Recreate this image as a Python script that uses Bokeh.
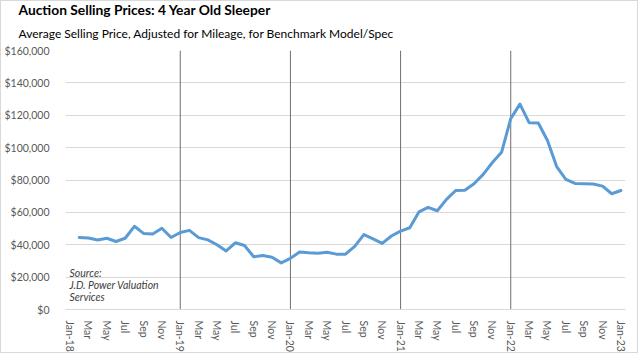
from bokeh.plotting import figure
from bokeh.models import (ColumnDataSource, Range1d, Title, Label, FixedTicker,
                          NumeralTickFormatter, SingleIntervalTicker)
from bokeh.embed import file_html
from bokeh.resources import INLINE

# ---- data ----
years = ["18", "19", "20", "21", "22", "23"]
month_names = ["Jan", "Feb", "Mar", "Apr", "May", "Jun",
               "Jul", "Aug", "Sep", "Oct", "Nov", "Dec"]
months = [f"{m}-{y}" for y in years[:-1] for m in month_names] + ["Jan-23"]

series_months = months[1:]  # Feb-18 .. Jan-23
prices = [
    44500, 44200, 42900, 44000, 42000, 44000, 51400, 47000, 46700, 50200, 44500,
    47600, 48900, 44400, 43000, 40000, 36200, 41200, 39500, 32600, 33400, 32300, 28800,
    31600, 35500, 35000, 34800, 35400, 34200, 34200, 39000, 46300, 43600, 40800, 45400,
    48400, 50500, 60300, 63100, 61000, 68000, 73500, 73700, 77700, 83500, 90800, 97100,
    117900, 126900, 115400, 115200, 104400, 88300, 80400, 77900, 77700, 77500, 76200, 71500,
    73500,
]
year_marks = ["Jan-19", "Jan-20", "Jan-21", "Jan-22"]
y_max = 160000
y_step = 20000

title_text = "Auction Selling Prices: 4 Year Old Sleeper"
subtitle_text = "Average Selling Price, Adjusted for Mileage, for Benchmark Model/Spec"
source_lines = ["Source:", "J.D. Power Valuation", "Services"]

# month positions on the axis and the labels shown (Jan-YY, then every other month)
pos = {m: i for i, m in enumerate(months)}
tick_positions = [i for i in range(len(months)) if i % 2 == 0]
tick_labels = {i: (months[i] if months[i].startswith("Jan") else months[i].split("-")[0])
               for i in tick_positions}

FONT = "Lato"
GREY = "#595959"

p = figure(width=638, height=353, output_backend="svg", toolbar_location=None,
           x_range=Range1d(-0.5, len(months) - 0.5),
           y_range=Range1d(0, y_max),
           min_border_left=64, min_border_right=14, min_border_top=0,
           min_border_bottom=44)
p.styles = {"border": "1px solid #D9D9D9"}

p.title.text = title_text
p.title.text_font = FONT
p.title.text_font_size = "13.8px"
p.title.text_font_style = "bold"
p.title.text_color = "#000000"
p.title.text_line_height = 1.0
p.title.offset = -47
p.title.standoff = -6
sub = Title(text=subtitle_text, text_font=FONT, text_font_size="12px",
            text_font_style="normal", text_color="#000000", text_line_height=1.0,
            offset=-47, standoff=19)
p.add_layout(sub, "above")

src = ColumnDataSource(dict(x=[pos[m] for m in series_months], y=prices))
vsrc = ColumnDataSource(dict(x=[pos[m] for m in year_marks], y0=[0] * len(year_marks),
                             y1=[y_max] * len(year_marks)))

p.segment(x0="x", y0="y0", x1="x", y1="y1", source=vsrc,
          line_color="#6E6E6E", line_width=1)
p.line(x="x", y="y", source=src, line_color="#5B9BD5", line_width=3,
       line_join="round", line_cap="round")

# axes
p.yaxis.ticker = SingleIntervalTicker(interval=y_step)
p.yaxis.formatter = NumeralTickFormatter(format="$0,0")
p.yaxis.axis_line_color = None
p.yaxis.major_tick_line_color = None
p.yaxis.minor_tick_line_color = None
p.yaxis.major_label_standoff = 10
p.yaxis.major_label_text_font = FONT
p.yaxis.major_label_text_font_size = "10.5px"
p.yaxis.major_label_text_color = GREY

p.xaxis.ticker = FixedTicker(ticks=tick_positions)
p.xaxis.major_label_overrides = tick_labels
p.xaxis.major_label_orientation = "vertical"
p.xaxis.axis_line_color = "#D9D9D9"
p.xaxis.major_tick_line_color = None
p.xaxis.minor_tick_line_color = None
p.xaxis.major_label_standoff = 5
p.xaxis.major_label_text_font = FONT
p.xaxis.major_label_text_font_size = "10.5px"
p.xaxis.major_label_text_color = GREY

p.xgrid.grid_line_color = None
p.ygrid.grid_line_color = "#D9D9D9"
p.outline_line_color = None

for k, line in enumerate(source_lines):
    p.add_layout(Label(x=4, y=31 - 12 * k, x_units="screen", y_units="screen",
                       text=line, text_font=FONT, text_font_size="10.5px",
                       text_font_style="italic", text_color="#404040"))

open("out.html", "w").write(file_html(p, INLINE))
